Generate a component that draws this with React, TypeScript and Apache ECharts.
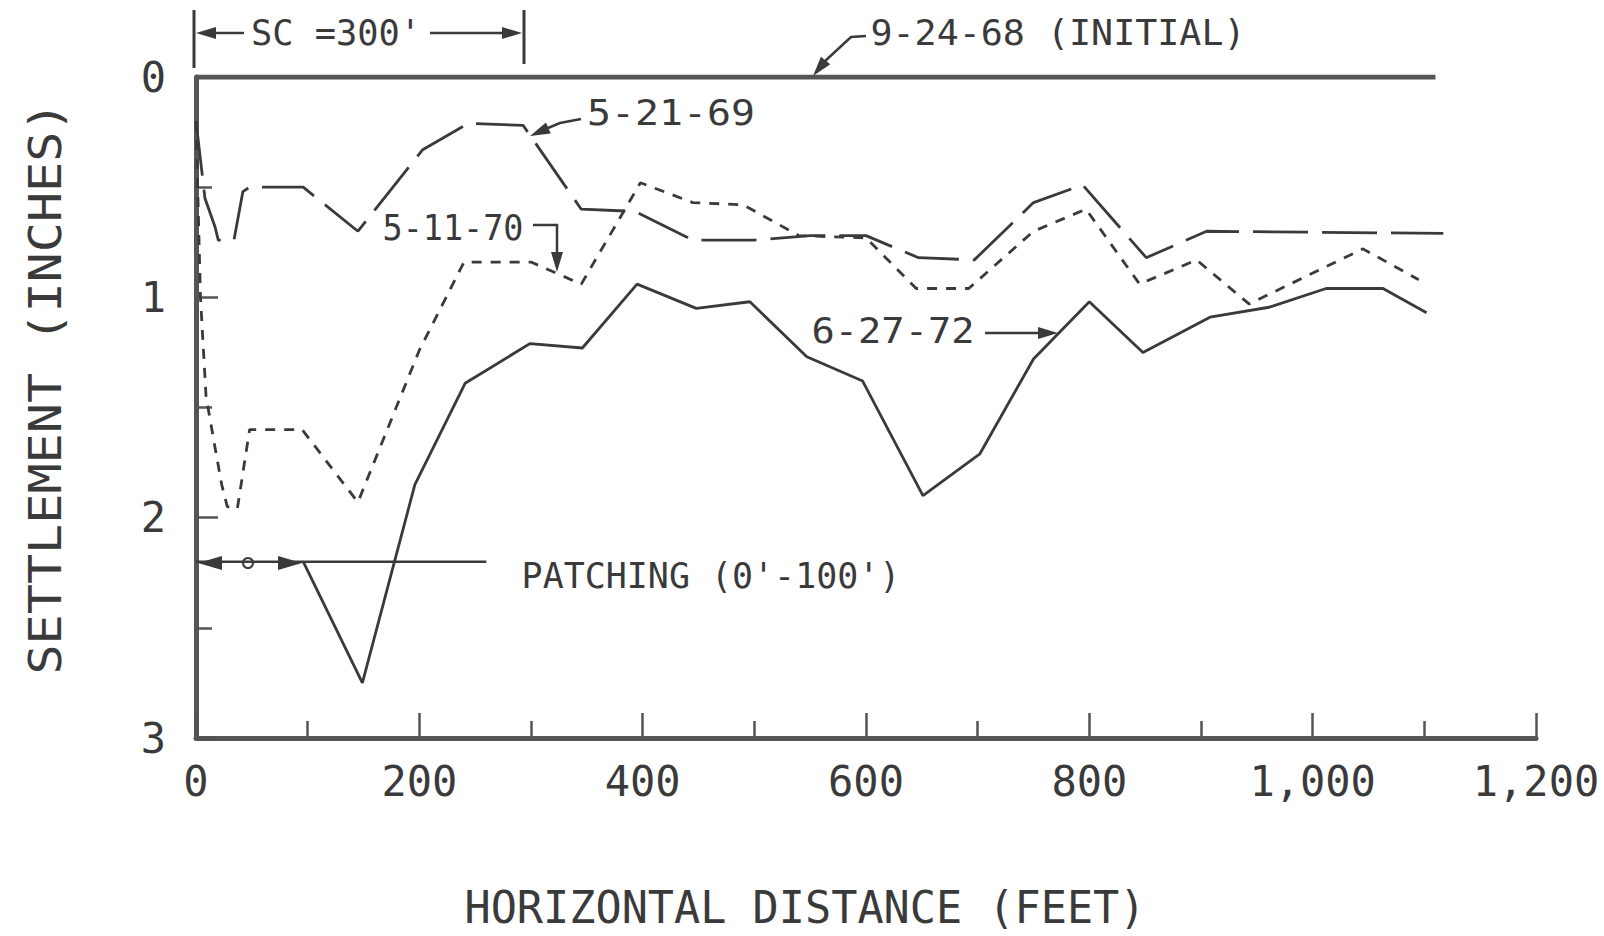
import React, { useEffect, useRef } from "react";
import * as echarts from "echarts";

// ---------- data ----------
const xTickLabels = ["0", "200", "400", "600", "800", "1,000", "1,200"];
const yTickLabels = ["0", "1", "2", "3"];

// 9-24-68 (initial survey)
const initialX = [0, 1110];
const initialY = [0, 0];

// 5-21-69 (long dash)
const s69X = [0, 8, 17, 20, 34, 42, 48, 96, 145, 203, 244, 293, 345, 393, 445, 500, 550, 600, 647, 697, 750, 794, 851, 905, 1117];
const s69Y = [0.2, 0.55, 0.68, 0.74, 0.74, 0.52, 0.5, 0.5, 0.7, 0.33, 0.21, 0.22, 0.6, 0.61, 0.74, 0.74, 0.72, 0.72, 0.82, 0.83, 0.57, 0.49, 0.82, 0.7, 0.71];

// 5-11-70 (short dash)
const s70X = [0, 4, 9, 17, 23, 28, 37, 48, 95, 145, 200, 240, 300, 345, 398, 445, 490, 540, 600, 645, 692, 750, 797, 845, 896, 943, 1045, 1095];
const s70Y = [0.2, 1.0, 1.45, 1.68, 1.85, 1.95, 1.96, 1.6, 1.6, 1.93, 1.24, 0.84, 0.84, 0.94, 0.48, 0.57, 0.58, 0.72, 0.73, 0.96, 0.96, 0.7, 0.6, 0.94, 0.83, 1.03, 0.78, 0.92];

// 6-27-72 (solid)
const s72X = [96, 149, 196, 241, 299, 346, 395, 448, 496, 547, 597, 651, 702, 750, 800, 848, 908, 961, 1012, 1063, 1102];
const s72Y = [2.2, 2.75, 1.85, 1.39, 1.21, 1.23, 0.94, 1.05, 1.02, 1.27, 1.38, 1.9, 1.71, 1.28, 1.02, 1.25, 1.09, 1.045, 0.96, 0.96, 1.07];

// patching leader line
const patchX = [0, 260];
const patchY = [2.2, 2.2];

// ---------- styling ----------
const INK = "#3a3a3a";
const AXIS = "#555555";
const MONO = "'DejaVu Sans Mono', monospace";

const pairs = (xs: number[], ys: number[]) => xs.map((x, i) => [x, ys[i]]);

function txt(text: string, cx: number, cy: number, width: number, fs: number, rotation = 0) {
  const natural = text.length * 0.602 * fs;
  return {
    type: "text",
    x: cx,
    y: cy,
    rotation,
    scaleX: width / natural,
    silent: true,
    style: { text, fontSize: fs, fontFamily: MONO, fill: INK, align: "center", verticalAlign: "middle" },
  };
}

function seg(pts: number[][], w = 2.5) {
  return { type: "polyline", silent: true, shape: { points: pts }, style: { stroke: INK, lineWidth: w, fill: null } };
}

function head(tipX: number, tipY: number, fromX: number, fromY: number, len = 20, half = 6) {
  const dx = tipX - fromX;
  const dy = tipY - fromY;
  const L = Math.hypot(dx, dy) || 1;
  const ux = dx / L;
  const uy = dy / L;
  const bx = tipX - ux * len;
  const by = tipY - uy * len;
  const nx = -uy;
  const ny = ux;
  return {
    type: "polygon",
    silent: true,
    shape: { points: [[tipX, tipY], [bx + nx * half, by + ny * half], [bx - nx * half, by - ny * half]] },
    style: { fill: INK },
  };
}

const graphics: any[] = [
  // axis titles
  txt("SETTLEMENT (INCHES)", 46, 388, 573, 44, Math.PI / 2),
  txt("HORIZONTAL DISTANCE (FEET)", 805, 907, 681, 44),

  // SC = 300' dimension
  seg([[194, 10], [194, 68]], 3),
  seg([[524, 10], [524, 64]], 3),
  seg([[214, 33], [244, 33]], 2.5),
  head(196, 33, 240, 33),
  txt("SC =300'", 336, 33, 170, 35),
  seg([[430, 33], [505, 33]], 2.5),
  head(522, 33, 480, 33),

  // 9-24-68 (INITIAL)
  txt("9-24-68 (INITIAL)", 1058, 33, 375, 35),
  seg([[866, 36], [851, 37], [824, 62]], 2.5),
  head(813, 76, 830, 55),

  // 5-21-69
  txt("5-21-69", 671, 113, 168, 35),
  seg([[581, 119], [560, 123], [548, 128]], 2.5),
  head(530, 136, 560, 123),

  // 5-11-70
  txt("5-11-70", 453, 228, 141, 35),
  seg([[533, 225], [557, 225], [557, 256]], 2.5),
  head(557, 272, 557, 245),

  // 6-27-72
  txt("6-27-72", 893, 331, 163, 35),
  seg([[985, 333], [1040, 333]], 2.5),
  head(1058, 333, 1020, 333),

  // patching
  txt("PATCHING (0'-100')", 711, 576, 379, 35),
  head(198, 563, 240, 563, 24, 7),
  { type: "circle", silent: true, shape: { cx: 248, cy: 563, r: 5 }, style: { fill: "#fff", stroke: INK, lineWidth: 2 } },
  head(302, 563, 260, 563, 24, 7),
];

const lineSeries = (name: string, xs: number[], ys: number[], lineStyle: any, z = 3) => ({
  name,
  type: "line",
  data: pairs(xs, ys),
  symbol: "none",
  silent: true,
  z,
  lineStyle,
});

const option: any = {
  animation: false,
  backgroundColor: "#ffffff",
  grid: { left: 196, top: 77, width: 1340, height: 661, containLabel: false },
  xAxis: {
    type: "value",
    position: "bottom",
    min: 0,
    max: 1200,
    interval: 200,
    axisLine: { show: true, onZero: false, lineStyle: { color: AXIS, width: 5 } },
    axisTick: { show: true, inside: true, length: 25, lineStyle: { color: AXIS, width: 2.5 } },
    minorTick: { show: true, splitNumber: 2, length: 17, lineStyle: { color: AXIS, width: 2.5 } },
    splitLine: { show: false },
    axisLabel: {
      margin: 22,
      fontSize: 42,
      fontFamily: MONO,
      color: INK,
      formatter: (v: number) => xTickLabels[Math.round(v / 200)] ?? "",
    },
  },
  yAxis: {
    type: "value",
    inverse: true,
    position: "left",
    min: 0,
    max: 3,
    interval: 1,
    axisLine: { show: true, onZero: false, lineStyle: { color: AXIS, width: 5 } },
    axisTick: { show: true, inside: true, length: 22, lineStyle: { color: AXIS, width: 2.5 } },
    minorTick: { show: true, splitNumber: 2, length: 16, lineStyle: { color: AXIS, width: 2.5 } },
    splitLine: { show: false },
    axisLabel: {
      margin: 30,
      fontSize: 42,
      fontFamily: MONO,
      color: INK,
      formatter: (v: number) => yTickLabels[Math.round(v)] ?? "",
    },
  },
  series: [
    lineSeries("9-24-68 (INITIAL)", initialX, initialY, { color: AXIS, width: 5, type: "solid" }, 4),
    lineSeries("5-21-69", s69X, s69Y, { color: INK, width: 2.8, type: [55, 14] }),
    lineSeries("5-11-70", s70X, s70Y, { color: INK, width: 2.8, type: [10, 9] }),
    lineSeries("6-27-72", s72X, s72Y, { color: INK, width: 2.8, type: "solid" }),
    lineSeries("PATCHING", patchX, patchY, { color: INK, width: 2.5, type: "solid" }),
  ],
  graphic: graphics,
};

export default function App() {
  const ref = useRef<HTMLDivElement>(null);
  useEffect(() => {
    if (!ref.current) return;
    const chart = echarts.init(ref.current, null, { renderer: "svg" });
    chart.setOption(option);
    return () => chart.dispose();
  }, []);
  return (
    <div
      ref={ref}
      style={{ position: "fixed", left: 0, top: 0, width: 1604, height: 936, background: "#ffffff" }}
    />
  );
}
